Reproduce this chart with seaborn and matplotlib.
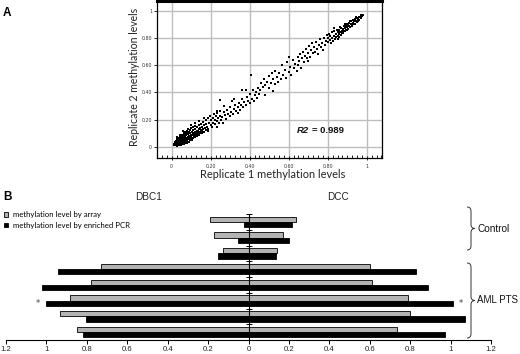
import numpy as np
import pandas as pd
import matplotlib
matplotlib.use("Agg")
import matplotlib.pyplot as plt
import seaborn as sns
from matplotlib.patches import Patch, PathPatch
from matplotlib.path import Path
from matplotlib.ticker import FuncFormatter, MultipleLocator

# ---------------- Panel A data ----------------
pts = [
 (0.010,0.015),(0.012,0.025),(0.015,0.020),(0.015,0.035),(0.018,0.012),(0.020,0.028),(0.020,0.045),(0.022,0.018),
 (0.025,0.035),(0.025,0.055),(0.027,0.010),(0.030,0.025),(0.030,0.042),(0.030,0.060),(0.032,0.016),(0.035,0.032),
 (0.035,0.050),(0.037,0.070),(0.040,0.020),(0.040,0.038),(0.040,0.058),(0.042,0.080),(0.045,0.028),(0.045,0.046),
 (0.045,0.066),(0.048,0.015),(0.050,0.036),(0.050,0.054),(0.050,0.075),(0.052,0.092),(0.055,0.025),(0.055,0.044),
 (0.055,0.062),(0.058,0.082),(0.060,0.034),(0.060,0.052),(0.060,0.070),(0.062,0.100),(0.065,0.022),(0.065,0.042),
 (0.065,0.060),(0.065,0.088),(0.068,0.112),(0.070,0.032),(0.070,0.050),(0.070,0.068),(0.070,0.078),(0.072,0.096),
 (0.075,0.040),(0.075,0.058),(0.075,0.086),(0.078,0.120),(0.080,0.030),(0.080,0.048),(0.080,0.066),(0.080,0.104),
 (0.082,0.134),(0.085,0.056),(0.085,0.076),(0.085,0.094),(0.088,0.040),(0.090,0.064),(0.090,0.084),(0.090,0.112),
 (0.092,0.050),(0.095,0.072),(0.095,0.100),(0.095,0.126),(0.098,0.060),(0.100,0.082),(0.100,0.092),(0.100,0.140),
 (0.102,0.054),(0.105,0.070),(0.105,0.110),(0.108,0.088),(0.110,0.064),(0.110,0.100),(0.110,0.124),(0.112,0.148),
 (0.115,0.080),(0.115,0.094),(0.118,0.112),(0.120,0.072),(0.120,0.106),(0.120,0.134),(0.122,0.158),(0.125,0.090),
 (0.128,0.120),(0.130,0.082),(0.130,0.104),(0.130,0.146),(0.135,0.118),(0.135,0.098),(0.138,0.132),(0.140,0.090),
 (0.140,0.160),(0.145,0.112),(0.145,0.140),(0.150,0.102),(0.150,0.126),(0.152,0.170),(0.155,0.150),(0.158,0.118),
 (0.160,0.136),(0.162,0.185),(0.165,0.110),(0.168,0.160),(0.170,0.142),(0.175,0.125),(0.175,0.195),(0.178,0.168),
 (0.180,0.150),(0.030,0.075),(0.045,0.090),(0.060,0.115),(0.038,0.012),(0.058,0.028),(0.078,0.045),(0.098,0.070),
 (0.118,0.085),(0.138,0.105),(0.158,0.100),(0.100,0.160),(0.120,0.175),(0.140,0.190),(0.165,0.215),(0.185,0.120),
 (0.185,0.210),(0.188,0.135),(0.190,0.175),(0.195,0.230),(0.200,0.160),(0.200,0.195),(0.205,0.145),(0.210,0.215),
 (0.210,0.180),(0.215,0.240),(0.220,0.170),(0.220,0.200),(0.225,0.225),(0.230,0.150),(0.230,0.190),(0.235,0.250),
 (0.240,0.210),(0.245,0.175),(0.250,0.230),(0.250,0.265),(0.250,0.344),(0.255,0.200),(0.260,0.220),(0.265,0.180),
 (0.270,0.255),(0.275,0.235),(0.280,0.205),(0.285,0.270),(0.290,0.245),(0.300,0.225),(0.300,0.290),(0.305,0.260),
 (0.310,0.340),(0.315,0.240),(0.320,0.280),(0.325,0.305),(0.330,0.265),(0.340,0.295),(0.345,0.325),(0.350,0.275),
 (0.355,0.310),(0.360,0.350),(0.360,0.417),(0.365,0.290),(0.370,0.330),(0.380,0.310),(0.385,0.370),(0.390,0.340),
 (0.400,0.320),(0.400,0.390),(0.405,0.527),(0.410,0.355),(0.415,0.420),(0.420,0.335),(0.425,0.380),(0.430,0.400),
 (0.440,0.360),(0.445,0.430),(0.450,0.390),(0.270,0.300),(0.320,0.350),(0.230,0.265),(0.380,0.420),(0.340,0.250),
 (0.455,0.420),(0.460,0.470),(0.470,0.440),(0.475,0.500),(0.480,0.455),(0.490,0.480),(0.500,0.430),(0.500,0.520),
 (0.510,0.470),(0.515,0.545),(0.520,0.495),(0.530,0.460),(0.530,0.560),(0.540,0.510),(0.545,0.480),(0.550,0.540),
 (0.560,0.500),(0.565,0.600),(0.570,0.530),(0.580,0.565),(0.585,0.505),(0.590,0.620),(0.600,0.550),(0.605,0.590),
 (0.610,0.530),(0.620,0.640),(0.625,0.580),(0.630,0.610),(0.640,0.560),(0.645,0.660),(0.650,0.600),(0.655,0.630),
 (0.660,0.680),(0.665,0.580),(0.670,0.650),(0.675,0.700),(0.680,0.620),(0.685,0.670),(0.690,0.720),(0.695,0.650),
 (0.700,0.690),(0.705,0.740),(0.710,0.660),(0.715,0.710),(0.720,0.760),(0.725,0.690),(0.730,0.730),(0.735,0.700),
 (0.740,0.770),(0.745,0.720),(0.750,0.680),(0.755,0.750),(0.760,0.790),(0.765,0.730),(0.770,0.760),(0.775,0.710),
 (0.780,0.800),(0.785,0.745),(0.790,0.775),(0.795,0.820),(0.520,0.410),(0.480,0.380),(0.600,0.660),(0.700,0.630),
 (0.800,0.770),(0.800,0.800),(0.805,0.830),(0.810,0.785),(0.810,0.815),(0.815,0.760),(0.820,0.800),(0.820,0.840),
 (0.825,0.780),(0.830,0.815),(0.830,0.850),(0.835,0.795),(0.840,0.830),(0.840,0.805),(0.845,0.860),(0.850,0.815),
 (0.850,0.840),(0.855,0.795),(0.860,0.830),(0.860,0.860),(0.865,0.845),(0.870,0.820),(0.870,0.875),(0.875,0.850),
 (0.880,0.835),(0.880,0.865),(0.885,0.890),(0.890,0.850),(0.890,0.875),(0.895,0.860),(0.900,0.880),(0.900,0.900),
 (0.905,0.865),(0.910,0.890),(0.910,0.910),(0.915,0.880),(0.920,0.900),(0.920,0.920),(0.925,0.890),(0.930,0.910),
 (0.930,0.930),(0.935,0.920),(0.940,0.905),(0.940,0.935),(0.945,0.925),(0.950,0.915),(0.950,0.945),(0.955,0.935),
 (0.960,0.950),(0.960,0.930),(0.965,0.955),(0.970,0.945),(0.970,0.965),(0.975,0.960),(0.980,0.970),(0.830,0.870),
 (0.860,0.805),(0.870,0.845),(0.890,0.905),(0.900,0.855),(0.915,0.925),(0.925,0.905),(0.935,0.900),(0.945,0.950),
 (0.955,0.925),(0.885,0.850),(0.865,0.880),(0.875,0.835),(0.895,0.885),(0.905,0.895),
]
rep1 = [p[0] for p in pts]
rep2 = [p[1] for p in pts]
a_ticks = [0, 0.2, 0.4, 0.6, 0.8, 1.0]
a_ticklabels = ["0", "0.20", "0.40", "0.60", "0.80", "1"]
r2_value = "0.989"

# ---------------- Panel B data ----------------
groups = ["C1", "C2", "C3", "P1", "P2", "P3", "P4", "P5"]
methods = ["methylation level by array", "methylation level by enriched PCR"]
dbc1_array = [0.19, 0.17, 0.125, 0.73, 0.78, 0.885, 0.935, 0.85]
dbc1_pcr = [0.02, 0.05, 0.15, 0.945, 1.02, 1.00, 0.805, 0.82]
dcc_array = [0.234, 0.17, 0.14, 0.60, 0.61, 0.79, 0.80, 0.735]
dcc_pcr = [0.215, 0.20, 0.137, 0.83, 0.89, 1.01, 1.07, 0.97]
b_ticks = [-1.2, -1.0, -0.8, -0.6, -0.4, -0.2, 0, 0.2, 0.4, 0.6, 0.8, 1.0, 1.2]

W, H = 520, 354
fig = plt.figure(figsize=(W / 100, H / 100), dpi=100)
fig.patch.set_facecolor("white")

def fx(px):
    return px / W

def fy(py):
    return 1 - py / H

# ================= Panel A =================
axA = fig.add_axes([fx(157), fy(158), (382 - 157) / W, (158 - 1) / H])
sns.scatterplot(x=rep1, y=rep2, ax=axA, marker="s", s=3.8, color="black",
                linewidth=0, zorder=3)
axA.set_xlim(-0.075, 1.078)
axA.set_ylim(-0.08, 1.07)
axA.set_xticks(a_ticks)
axA.set_xticklabels(a_ticklabels)
axA.set_yticks(a_ticks)
axA.set_yticklabels(a_ticklabels)
axA.xaxis.set_minor_locator(MultipleLocator(0.025))
axA.grid(True, which="major", color="#bdbdbd", linewidth=1.0, zorder=0)
axA.set_axisbelow(True)
axA.tick_params(axis="both", which="major", labelsize=3.4, labelcolor="#333333",
                length=2, width=0.6, pad=1.5)
axA.tick_params(axis="x", which="minor", direction="in", length=2, width=0.6)
axA.tick_params(axis="x", which="major", direction="inout", length=3, pad=2.5)
for s in axA.spines.values():
    s.set_color("black")
    s.set_linewidth(0.9)
axA.spines["top"].set_linewidth(2.2)
axA.set_xlabel("")
axA.set_ylabel("")

fam = ["Lato", "DejaVu Sans"]
fig.text(fx(273), fy(175), "Replicate 1 methylation levels", ha="center", va="center",
         fontsize=7.9, family=fam, color="#222222")
fig.text(fx(135), fy(77), "Replicate 2 methylation levels", ha="center", va="center",
         rotation=90, fontsize=7.6, family=fam, color="#222222")

t1 = axA.text(0.64, 0.125, "R2", fontsize=6.8, fontweight="bold", fontstyle="italic",
              family=["Liberation Sans"], ha="left", va="center", color="#111111")
axA.annotate("= " + r2_value, xy=(1, 0), xycoords=t1, xytext=(2.5, 0),
             textcoords="offset points", ha="left", va="bottom", fontsize=6.8,
             fontweight="bold", family=["Liberation Sans"], color="#111111")

fig.text(fx(7), fy(13), "A", ha="center", va="center", fontsize=8.5, fontweight="bold",
         family=["Liberation Sans"])
fig.text(fx(7), fy(197), "B", ha="center", va="center", fontsize=8.5, fontweight="bold",
         family=["Liberation Sans"])

# ================= Panel B =================
axB = fig.add_axes([fx(6), fy(340), (491 - 6) / W, (340 - 214) / H])
rows = []
for i, g in enumerate(groups):
    rows.append({"group": g, "method": methods[0], "side": "DBC1", "value": -dbc1_array[i]})
    rows.append({"group": g, "method": methods[1], "side": "DBC1", "value": -dbc1_pcr[i]})
    rows.append({"group": g, "method": methods[0], "side": "DCC", "value": dcc_array[i]})
    rows.append({"group": g, "method": methods[1], "side": "DCC", "value": dcc_pcr[i]})
df = pd.DataFrame(rows)
pal = {methods[0]: "#b3b3b3", methods[1]: "#000000"}
for side in ["DBC1", "DCC"]:
    sns.barplot(data=df[df.side == side], x="value", y="group", hue="method",
                order=groups, hue_order=methods, palette=pal, orient="h",
                width=0.66, edgecolor="black", linewidth=0.6, ax=axB,
                legend=False, errorbar=None, saturation=1)
axB.set_xlim(-1.2, 1.2)
axB.set_ylim(len(groups) - 0.5, -0.5)
axB.set_xlabel("")
axB.set_ylabel("")
axB.set_xticks(b_ticks)
axB.xaxis.set_major_formatter(FuncFormatter(lambda v, p: f"{abs(v):g}"))
axB.tick_params(axis="x", labelsize=5.6, length=3, width=0.7, pad=1.0,
                labelcolor="#222222")
for lab in axB.get_xticklabels():
    lab.set_family(["Liberation Sans"])
axB.spines["top"].set_visible(False)
axB.spines["right"].set_visible(False)
axB.spines["left"].set_position(("data", 0))
axB.spines["left"].set_zorder(5)
axB.spines["left"].set_linewidth(0.8)
axB.spines["bottom"].set_linewidth(0.8)
axB.set_yticks([k - 0.5 for k in range(len(groups) + 1)])
axB.set_yticklabels([])
axB.tick_params(axis="y", direction="inout", length=4, width=0.7)

axB.text(-dbc1_pcr[5] - 0.03, 5.16, "*", ha="right", va="center", fontsize=6,
         color="#444444")
axB.text(dcc_pcr[5] + 0.03, 5.16, "*", ha="left", va="center", fontsize=6,
         color="#444444")

fig.text(fx(148.5), fy(197), "DBC1", ha="center", va="center", fontsize=7.2,
         family=["Liberation Sans"], color="#222222")
fig.text(fx(338), fy(197), "DCC", ha="center", va="center", fontsize=7.2,
         family=["Liberation Sans"], color="#222222")

handles = [Patch(facecolor="#b3b3b3", edgecolor="black", linewidth=0.6, label=methods[0]),
           Patch(facecolor="black", edgecolor="black", linewidth=0.6, label=methods[1])]
fig.legend(handles=handles, loc="upper left", bbox_to_anchor=(fx(4), fy(211)),
           frameon=False, handlelength=0.55, handleheight=0.55,
           handletextpad=0.6, labelspacing=0.5, borderaxespad=0, borderpad=0,
           prop={"family": fam, "size": 5.6})

def brace(x0, y0, y1, w):
    ym = (y0 + y1) / 2
    xm = x0 + w / 2
    r = 4
    verts = [(x0, y0), (xm, y0), (xm, y0 + r),
             (xm, ym - r),
             (xm, ym), (x0 + w, ym),
             (xm, ym), (xm, ym + r),
             (xm, y1 - r),
             (xm, y1), (x0, y1)]
    codes = [Path.MOVETO, Path.CURVE3, Path.CURVE3,
             Path.LINETO,
             Path.CURVE3, Path.CURVE3,
             Path.CURVE3, Path.CURVE3,
             Path.LINETO,
             Path.CURVE3, Path.CURVE3]
    verts = [(fx(a), fy(b)) for a, b in verts]
    fig.patches.append(PathPatch(Path(verts, codes), transform=fig.transFigure,
                                 facecolor="none", edgecolor="#333333", linewidth=0.7))

brace(467, 207, 250, 8)
brace(467, 263, 338, 8)
fig.text(fx(477), fy(229), "Control", ha="left", va="center", fontsize=7.2,
         family=["Liberation Sans"], color="#111111")
fig.text(fx(477), fy(300), "AML PTS", ha="left", va="center", fontsize=7.0,
         family=["Liberation Sans"], color="#111111")

fig.savefig("out.png", dpi=100)
